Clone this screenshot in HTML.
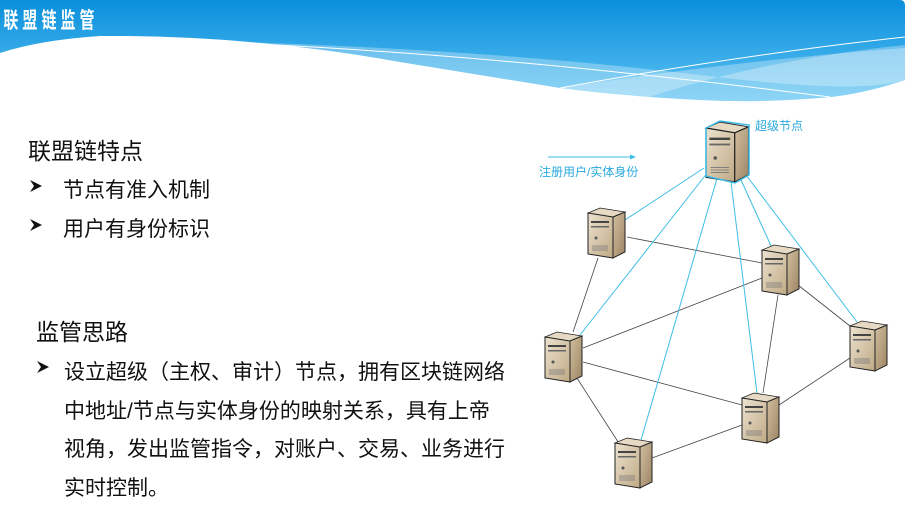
<!DOCTYPE html>
<html><head><meta charset="utf-8"><style>
body{margin:0;width:920px;height:513px;overflow:hidden;background:#fff;font-family:"Liberation Sans","Noto Sans CJK SC",sans-serif;position:relative}
.t{position:absolute;color:#111;white-space:nowrap}
</style></head><body>
<svg width="920" height="513" style="position:absolute;left:0;top:0">
<defs>
<linearGradient id="hg" x1="0" y1="0" x2="0" y2="100" gradientUnits="userSpaceOnUse"><stop offset="0" stop-color="#0a8fdc"/><stop offset="1" stop-color="#5cc2f2"/></linearGradient>
<linearGradient id="fr" x1="0" y1="0" x2="1" y2="1"><stop offset="0" stop-color="#ece2cf"/><stop offset="1" stop-color="#bfa985"/></linearGradient>
<linearGradient id="sd" x1="0" y1="0" x2="1" y2="1"><stop offset="0" stop-color="#d2c0a0"/><stop offset="1" stop-color="#9c8463"/></linearGradient>
<g id="srv">
<polygon points="0,5 12,0 37,4 25,9" fill="#e6dac4" stroke="#222" stroke-width="0.8"/>
<polygon points="0,5 25,9 25,50 0,46" fill="url(#fr)" stroke="#222" stroke-width="1"/>
<polygon points="25,9 37,4 37,44 25,50" fill="url(#sd)" stroke="#222" stroke-width="1"/>
<rect x="3" y="13" width="18" height="2" fill="#444"/>
<rect x="3" y="18" width="18" height="1.5" fill="#666"/>
<circle cx="8" cy="30" r="1.5" fill="#555"/>
<path d="M4 38h16M4 40h16M4 42h16" stroke="#777" stroke-width="0.7"/>
</g>
</defs>
<path d="M0 0H900Q905 0 905 6V80 Q860 95 820 98 Q760 103 700 100 Q620 96 560 88 Q480 75 400 62 Q250 35 100 36 Q40 40 0 53Z" fill="url(#hg)"/>
<path d="M150 40 Q450 45 700 75 Q860 95 905 80 L905 45 Q760 60 640 100 Q600 95 560 88 Q480 75 400 62 Q300 45 150 40Z" fill="#fff" opacity="0.3"/>
<path d="M560 88 Q740 60 905 48 V80 Q860 95 820 98 Q760 103 700 100 Q620 96 560 88Z" fill="#fff" opacity="0.3"/>
<path d="M150 40 Q450 48 830 97" fill="none" stroke="#fff" stroke-width="1"/>
<path d="M560 88 Q740 55 905 37" fill="none" stroke="#fff" stroke-width="1"/>
<text x="5" y="28" font-size="22" font-weight="bold" fill="#fff" letter-spacing="6" transform="scale(0.68,1)" font-family="Liberation Sans,Noto Sans CJK SC,sans-serif">联盟链监管</text>
<g stroke="#444" stroke-width="0.8">
<line x1="627" y1="237" x2="762" y2="263"/><line x1="598" y1="258" x2="573" y2="332"/>
<line x1="583" y1="348" x2="762" y2="278"/><line x1="583" y1="362" x2="742" y2="405"/>
<line x1="575" y1="375" x2="622" y2="448"/><line x1="652" y1="458" x2="742" y2="425"/>
<line x1="763" y1="393" x2="778" y2="295"/><line x1="798" y1="285" x2="855" y2="330"/>
<line x1="850" y1="358" x2="779" y2="405"/>
</g>
<g stroke="#3fbde6" stroke-width="1" fill="#3fbde6">
<line x1="625" y1="220" x2="704" y2="168"/><line x1="580" y1="335" x2="708" y2="172"/>
<line x1="641" y1="440" x2="718" y2="175"/><line x1="757" y1="393" x2="731" y2="182"/>
<line x1="772" y1="248" x2="741" y2="180"/><line x1="857" y1="322" x2="746" y2="175"/>
<line x1="548" y1="157" x2="632" y2="157"/><polygon points="636,157 630,154.5 630,159.5" stroke="none"/>
</g>
<use href="#srv" x="588" y="208"/><use href="#srv" x="762" y="245"/>
<use href="#srv" x="545" y="332"/><use href="#srv" x="850" y="321"/>
<use href="#srv" x="742" y="393"/><use href="#srv" x="615" y="438"/>
<g transform="translate(706,122) scale(1.15,1.2)"><use href="#srv"/></g>
<polygon points="706,128 720,121 749,125 749,175 735,183 706,176" fill="none" stroke="#3fbde6" stroke-width="1.5"/>
<text x="539" y="176" font-size="12" fill="#2aa9dd" font-family="Liberation Sans,Noto Sans CJK SC,sans-serif">注册用户/实体身份</text>
<text x="755" y="130" font-size="12" fill="#2aa9dd" font-family="Liberation Sans,Noto Sans CJK SC,sans-serif">超级节点</text>
<g fill="#111">
<path d="M30 180 L42 186 L30 192 L34 186Z"/>
<path d="M30 219 L42 225 L30 231 L34 225Z"/>
<path d="M37 361 L49 367 L37 373 L41 367Z"/>
</g>
</svg>
<div class="t" style="left:28px;top:132px;font-size:23px">联盟链特点</div>
<div class="t" style="left:63px;top:174px;font-size:21px">节点有准入机制</div>
<div class="t" style="left:63px;top:213px;font-size:21px">用户有身份标识</div>
<div class="t" style="left:36px;top:313px;font-size:23px">监管思路</div>
<div class="t" style="left:64px;top:354px;font-size:21px;line-height:38.5px">设立超级（主权、审计）节点，拥有区块链网络<br>中地址/节点与实体身份的映射关系，具有上帝<br>视角，发出监管指令，对账户、交易、业务进行<br>实时控制。</div>
</body></html>
